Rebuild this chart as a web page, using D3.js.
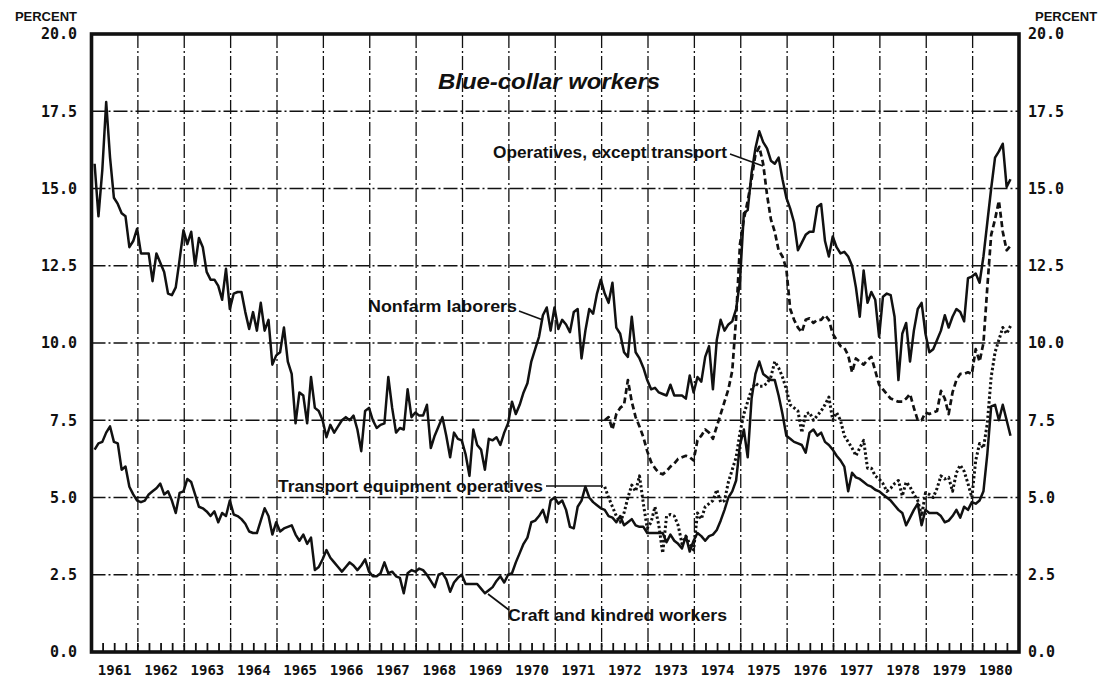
<!DOCTYPE html>
<html><head><meta charset="utf-8">
<script src="https://cdn.jsdelivr.net/npm/d3@7"></script>
<style>body{margin:0;background:#fff} svg{display:block}</style>
</head><body><svg id="chart" width="1104" height="681"></svg>
<script>
// ---------------- data ----------------
const startYear = 1961;              // first month of the series = Jan 1961 (monthly data)
const yearLabels = ["1961","1962","1963","1964","1965","1966","1967","1968","1969","1970",
                    "1971","1972","1973","1974","1975","1976","1977","1978","1979","1980"];
const yTicks = [0, 2.5, 5, 7.5, 10, 12.5, 15, 17.5, 20];

// Nonfarm laborers, Jan 1961 - Oct 1980
const nonfarm = [
15.8,14.1,15.6,17.8,16.0,14.7,14.5,14.2,14.1,13.1,13.3,13.7,
12.9,12.9,12.9,12.0,12.9,12.6,12.3,11.6,11.55,11.8,12.7,13.65,
13.2,13.6,12.5,13.4,13.1,12.3,12.05,12.05,11.85,11.4,12.4,11.1,
11.6,11.65,11.65,11.0,10.45,11.0,10.4,11.3,10.4,10.75,9.3,9.6,
9.7,10.5,9.4,9.0,7.4,8.4,8.3,7.4,8.9,7.9,7.8,7.5,
6.95,7.35,7.1,7.3,7.5,7.6,7.5,7.65,7.2,6.5,7.8,7.9,
7.5,7.25,7.35,7.4,8.9,7.9,7.1,7.25,7.2,8.5,7.6,7.75,
7.65,7.65,8.0,6.6,7.0,7.3,7.6,7.0,6.3,7.1,6.9,6.85,
6.4,5.7,7.2,6.7,6.55,5.9,6.9,6.85,6.95,6.7,7.1,7.4,
8.1,7.7,8.0,8.4,8.7,9.4,9.8,10.2,10.9,11.15,10.4,11.15,
10.45,10.75,10.6,10.35,11.0,11.1,9.5,10.4,11.1,10.95,11.6,12.05,
11.6,11.3,11.95,10.5,10.3,9.7,9.55,10.85,9.7,9.5,9.2,8.8,
8.5,8.55,8.4,8.35,8.3,8.65,8.3,8.3,8.3,8.2,8.95,8.4,
8.9,8.75,9.55,9.9,8.5,10.1,10.75,10.4,10.6,10.7,11.1,12.0,
14.2,14.3,15.5,16.3,16.85,16.5,16.3,15.9,15.8,16.0,15.3,14.7,
14.35,13.9,13.0,13.25,13.5,13.6,13.6,14.4,14.5,13.3,12.8,13.45,
13.1,12.9,12.95,12.8,12.5,11.8,10.85,12.35,11.3,11.65,11.4,10.2,
11.5,11.6,11.55,10.85,8.8,10.3,10.65,9.4,10.4,11.1,11.3,10.3,
9.7,9.8,10.1,10.4,10.9,10.5,10.85,11.1,11.0,10.7,12.1,12.15,
12.25,11.95,12.8,13.9,15.0,16.0,16.2,16.45,15.05,15.3
];

// Craft and kindred workers, Jan 1961 - Oct 1980
const craft = [
6.55,6.75,6.8,7.1,7.3,6.8,6.75,5.9,6.0,5.35,5.1,4.9,
4.85,4.9,5.1,5.2,5.3,5.45,5.1,5.2,4.9,4.5,5.15,5.2,
5.6,5.5,5.1,4.7,4.65,4.55,4.4,4.55,4.2,4.5,4.4,4.9,
4.45,4.4,4.3,4.15,3.9,3.85,3.85,4.25,4.65,4.4,3.8,4.2,
3.9,4.0,4.05,4.1,3.8,3.6,3.8,3.5,3.7,2.65,2.75,3.0,
3.3,3.05,2.9,2.75,2.6,2.75,2.9,2.8,2.65,2.8,3.0,2.6,
2.45,2.45,2.55,2.9,2.55,2.6,2.45,2.4,1.9,2.55,2.65,2.6,
2.7,2.65,2.5,2.3,2.1,2.5,2.55,2.35,1.95,2.25,2.4,2.5,
2.2,2.2,2.2,2.2,2.05,1.9,2.0,2.1,2.3,2.45,2.25,2.5,
2.55,2.9,3.2,3.5,3.7,4.2,4.25,4.4,4.6,4.2,4.9,5.0,
4.8,4.9,4.6,4.05,4.0,4.7,4.9,5.35,5.0,4.85,4.75,4.65,
4.6,4.4,4.35,4.2,4.4,4.1,4.2,4.3,4.1,4.05,4.05,3.85,
3.85,3.85,3.85,3.85,3.55,3.8,3.6,3.5,3.35,3.75,3.25,3.6,
3.85,3.75,3.6,3.75,3.8,3.95,4.25,4.6,5.0,5.2,5.55,6.7,
7.2,6.3,8.2,9.0,9.4,9.0,8.9,8.8,8.8,8.3,7.7,7.0,
6.9,6.8,6.75,6.7,6.45,7.1,7.2,7.0,7.1,6.8,6.7,6.55,
6.35,6.2,6.0,5.2,5.8,5.65,5.6,5.5,5.4,5.35,5.25,5.2,
5.1,5.0,4.9,4.75,4.6,4.5,4.1,4.35,4.6,4.8,4.1,4.6,
4.5,4.5,4.5,4.4,4.2,4.25,4.4,4.6,4.35,4.7,4.6,4.85,
4.8,4.9,5.2,6.4,7.95,8.0,7.5,8.0,7.5,7.0
];

// The two operative series begin in January 1972 (month index 132)
const operativesStartMonth = 132;

// Operatives, except transport, Jan 1972 - Oct 1980
const operatives = [
7.5,7.6,7.2,7.7,7.9,8.0,8.8,8.1,7.6,7.3,6.95,6.5,
6.15,5.95,5.8,5.75,5.85,6.0,6.1,6.25,6.3,6.35,6.3,6.2,
6.85,7.0,7.2,7.1,6.9,7.3,7.7,8.1,8.5,9.1,10.8,13.2,
14.0,14.6,15.3,16.1,16.35,15.8,14.8,14.0,13.6,13.0,12.8,12.4,
11.1,10.75,10.5,10.35,10.75,10.8,10.65,10.75,10.75,10.9,10.75,10.3,
10.1,9.9,9.85,9.6,9.05,9.5,9.4,9.3,9.45,9.55,9.1,8.65,
8.5,8.35,8.2,8.15,8.1,8.1,8.2,8.35,7.9,7.5,7.5,7.75,
7.7,7.75,7.8,8.45,8.2,7.7,8.4,8.8,9.0,9.0,9.05,9.0,
9.8,9.4,10.0,11.8,13.5,14.0,14.6,13.6,13.0,13.15
];

// Transport equipment operatives, Jan 1972 - Oct 1980
const transport = [
5.35,5.0,4.7,4.4,4.2,4.5,5.0,5.4,5.2,5.7,4.8,4.0,
4.2,4.7,4.1,3.2,4.4,4.45,4.4,4.1,3.5,3.75,3.5,3.3,
4.5,4.3,4.7,4.8,4.9,5.25,4.85,4.9,5.5,5.9,6.3,7.1,
7.7,8.1,8.5,8.7,8.6,8.6,8.7,8.9,9.4,9.2,8.9,8.5,
8.0,7.9,7.8,7.1,7.7,7.75,7.5,7.65,7.8,8.0,8.25,7.5,
7.75,7.5,7.0,6.8,6.6,6.35,6.6,6.85,5.95,5.95,5.7,5.6,
5.45,5.2,5.3,5.45,5.55,5.05,5.5,5.35,5.1,4.9,4.4,5.15,
5.1,5.0,5.3,5.7,5.6,5.65,5.2,5.8,6.05,5.85,5.45,5.0,
6.2,6.75,6.6,7.4,8.9,9.7,10.1,10.5,10.3,10.55
];

// ---------------- drawing ----------------
const svg = d3.select("#chart");
const x = d3.scaleLinear().domain([1961, 1981]).range([91.5, 1019]);
const y = d3.scaleLinear().domain([0, 20]).range([652, 34]);
const monthT = i => startYear + (i + 0.8) / 12;
const toPts = (arr, off) => arr.map((v, i) => ({t: monthT(i + off), v}));

const INK = "#111";

// grid
const g = svg.append("g");
g.selectAll("line.h").data(yTicks.filter(d => d > 0 && d < 20)).join("line")
  .attr("x1", x(1961)).attr("x2", x(1981))
  .attr("y1", d => y(d)).attr("y2", d => y(d))
  .attr("stroke", INK).attr("stroke-width", 1.3)
  .attr("stroke-dasharray", "14,3,2,3");
g.selectAll("line.v").data(d3.range(1962, 1981)).join("line")
  .attr("x1", d => x(d)).attr("x2", d => x(d))
  .attr("y1", y(20)).attr("y2", y(0))
  .attr("stroke", INK).attr("stroke-width", 1.3)
  .attr("stroke-dasharray", "14,3,2,3");

// quarter ticks
const quarters = d3.range(1961, 1981, 0.25).filter(q => q > 1961);
g.selectAll("line.q").data(quarters).join("line")
  .attr("x1", d => x(d)).attr("x2", d => x(d))
  .attr("y1", y(0)).attr("y2", y(0) - 9)
  .attr("stroke", INK).attr("stroke-width", 1.8);

// frame
svg.append("rect")
  .attr("x", x(1961)).attr("y", y(20))
  .attr("width", x(1981) - x(1961)).attr("height", y(0) - y(20))
  .attr("fill", "none").attr("stroke", INK).attr("stroke-width", 3.6);

// axis labels
const fmt = d3.format(".1f");
const tickFont = "'DejaVu Sans Mono', monospace";
svg.selectAll("text.yl").data(yTicks).join("text")
  .attr("x", 77).attr("y", d => y(d)).attr("dy", "0.36em")
  .attr("text-anchor", "end").attr("font-family", tickFont)
  .attr("font-weight", "bold").attr("font-size", 15).attr("fill", INK)
  .text(fmt);
svg.selectAll("text.yr").data(yTicks).join("text")
  .attr("x", 1028).attr("y", d => y(d)).attr("dy", "0.36em")
  .attr("text-anchor", "start").attr("font-family", tickFont)
  .attr("font-weight", "bold").attr("font-size", 15).attr("fill", INK)
  .text(fmt);
svg.selectAll("text.xl").data(yearLabels).join("text")
  .attr("x", d => x(+d + 0.5)).attr("y", 675)
  .attr("text-anchor", "middle").attr("font-family", tickFont)
  .attr("font-weight", "bold").attr("font-size", 14).attr("fill", INK)
  .text(d => d);

const sans = "'Liberation Sans', Arial, Helvetica, sans-serif";
svg.append("text").attr("x", 77).attr("y", 21).attr("text-anchor", "end")
  .attr("font-family", sans).attr("font-weight", "bold").attr("font-size", 13)
  .attr("fill", INK).text("PERCENT");
svg.append("text").attr("x", 1035).attr("y", 21).attr("text-anchor", "start")
  .attr("font-family", sans).attr("font-weight", "bold").attr("font-size", 13)
  .attr("fill", INK).text("PERCENT");

// series
const line = d3.line().x(d => x(d.t)).y(d => y(d.v));
const series = [
  {data: toPts(nonfarm, 0), dash: null, w: 2.5},
  {data: toPts(craft, 0), dash: null, w: 2.5},
  {data: toPts(operatives, operativesStartMonth), dash: "6,3.5", w: 2.7},
  {data: toPts(transport, operativesStartMonth), dash: "2.4,2.4", w: 3}
];
svg.selectAll("path.s").data(series).join("path")
  .attr("d", d => line(d.data))
  .attr("fill", "none").attr("stroke", INK)
  .attr("stroke-width", d => d.w).attr("stroke-linejoin", "round")
  .attr("stroke-dasharray", d => d.dash);

// title and labels
function label(txt, x0, yb, size, len, italic) {
  svg.append("text").attr("x", x0).attr("y", yb)
    .attr("font-family", sans).attr("font-weight", "bold")
    .attr("font-style", italic ? "italic" : "normal")
    .attr("font-size", size).attr("fill", INK)
    .attr("textLength", len).attr("lengthAdjust", "spacingAndGlyphs")
    .text(txt);
}
label("Blue-collar workers", 438, 89, 22, 222, true);
label("Operatives, except transport", 493, 158, 16.5, 234, false);
label("Nonfarm laborers", 368, 312, 16.5, 149, false);
label("Transport equipment operatives", 278, 492, 16.5, 265, false);
label("Craft and kindred workers", 508, 621, 16.5, 219, false);

// leader lines
const leaders = [
  [[730,154],[763,166]],
  [[519,311],[543,320]],
  [[546,486],[603,486]],
  [[509,610],[488,594]]
];
svg.selectAll("line.ld").data(leaders).join("line")
  .attr("x1", d => d[0][0]).attr("y1", d => d[0][1])
  .attr("x2", d => d[1][0]).attr("y2", d => d[1][1])
  .attr("stroke", INK).attr("stroke-width", 1.6);
</script></body></html>
